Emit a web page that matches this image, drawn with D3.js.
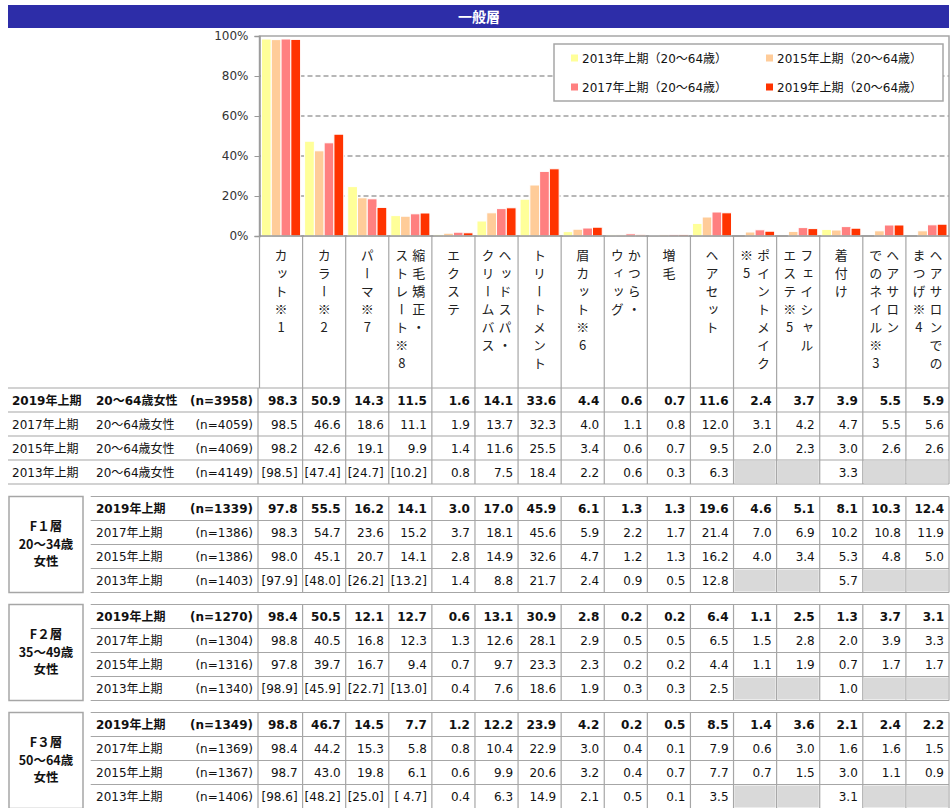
<!DOCTYPE html>
<html>
<head>
<meta charset="utf-8">
<script src="https://cdn.jsdelivr.net/npm/d3@7.9.0/dist/d3.min.js"></script>
<style>
  body { margin: 0; background: #fff; }
  svg { display: block; font-family: "DejaVu Sans", "Noto Sans CJK JP", sans-serif; }
</style>
</head>
<body>
<svg id="chart" width="951" height="808"></svg>
<script>
// categories (vertical labels: right column first)
const categories = ["カット", "カラー", "パーマ", "縮毛矯正・ストレート", "エクステ", "ヘッドスパ・クリームバス",
  "トリートメント", "眉カット", "かつら・ウィッグ", "増毛", "ヘアセット", "ポイントメイク",
  "フェイシャルエステ", "着付け", "ヘアサロンでのネイル", "ヘアサロンでのまつげ"];
const catLabels = [["カット※1"], ["カラー※2"], ["パーマ※7"], ["縮毛矯正・", "ストレート※8"], ["エクステ"],
  ["ヘッドスパ・", "クリームバス"], ["トリートメント"], ["眉カット※6"], ["かつら・", "ウィッグ"], ["増毛"],
  ["ヘアセット"], ["ポイントメイク", "※5"], ["フェイシャル", "エステ※5"], ["着付け"],
  ["ヘアサロン", "でのネイル※3"], ["ヘアサロンでの", "まつげ※4"]];

const rowYears = ["2019年上期", "2017年上期", "2015年上期", "2013年上期"];
const seriesKeys = ["2013", "2015", "2017", "2019"];
const seriesNames = ["2013年上期（20～64歳）", "2015年上期（20～64歳）", "2017年上期（20～64歳）", "2019年上期（20～64歳）"];
const seriesColors = ["#ffff99", "#ffcc99", "#ff8080", "#ff3300"];
const yTicks = [0, 20, 40, 60, 80, 100];

// 20～64歳女性 (rows: 2019, 2017, 2015, 2013)
const allN = [3958, 4059, 4069, 4149];
const all2019 = [98.3, 50.9, 14.3, 11.5, 1.6, 14.1, 33.6, 4.4, 0.6, 0.7, 11.6, 2.4, 3.7, 3.9, 5.5, 5.9];
const all2017 = [98.5, 46.6, 18.6, 11.1, 1.9, 13.7, 32.3, 4.0, 1.1, 0.8, 12.0, 3.1, 4.2, 4.7, 5.5, 5.6];
const all2015 = [98.2, 42.6, 19.1, 9.9, 1.4, 11.6, 25.5, 3.4, 0.6, 0.7, 9.5, 2.0, 2.3, 3.0, 2.6, 2.6];
const all2013 = [98.5, 47.4, 24.7, 10.2, 0.8, 7.5, 18.4, 2.2, 0.6, 0.3, 6.3, null, null, 3.3, null, null];

// F1層
const f1N = [1339, 1386, 1386, 1403];
const f1_2019 = [97.8, 55.5, 16.2, 14.1, 3.0, 17.0, 45.9, 6.1, 1.3, 1.3, 19.6, 4.6, 5.1, 8.1, 10.3, 12.4];
const f1_2017 = [98.3, 54.7, 23.6, 15.2, 3.7, 18.1, 45.6, 5.9, 2.2, 1.7, 21.4, 7.0, 6.9, 10.2, 10.8, 11.9];
const f1_2015 = [98.0, 45.1, 20.7, 14.1, 2.8, 14.9, 32.6, 4.7, 1.2, 1.3, 16.2, 4.0, 3.4, 5.3, 4.8, 5.0];
const f1_2013 = [97.9, 48.0, 26.2, 13.2, 1.4, 8.8, 21.7, 2.4, 0.9, 0.5, 12.8, null, null, 5.7, null, null];

// F2層
const f2N = [1270, 1304, 1316, 1340];
const f2_2019 = [98.4, 50.5, 12.1, 12.7, 0.6, 13.1, 30.9, 2.8, 0.2, 0.2, 6.4, 1.1, 2.5, 1.3, 3.7, 3.1];
const f2_2017 = [98.8, 40.5, 16.8, 12.3, 1.3, 12.6, 28.1, 2.9, 0.5, 0.5, 6.5, 1.5, 2.8, 2.0, 3.9, 3.3];
const f2_2015 = [97.8, 39.7, 16.7, 9.4, 0.7, 9.7, 23.3, 2.3, 0.2, 0.2, 4.4, 1.1, 1.9, 0.7, 1.7, 1.7];
const f2_2013 = [98.9, 45.9, 22.7, 13.0, 0.4, 7.6, 18.6, 1.9, 0.3, 0.3, 2.5, null, null, 1.0, null, null];

// F3層
const f3N = [1349, 1369, 1367, 1406];
const f3_2019 = [98.8, 46.7, 14.5, 7.7, 1.2, 12.2, 23.9, 4.2, 0.2, 0.5, 8.5, 1.4, 3.6, 2.1, 2.4, 2.2];
const f3_2017 = [98.4, 44.2, 15.3, 5.8, 0.8, 10.4, 22.9, 3.0, 0.4, 0.1, 7.9, 0.6, 3.0, 1.6, 1.6, 1.5];
const f3_2015 = [98.7, 43.0, 19.8, 6.1, 0.6, 9.9, 20.6, 3.2, 0.4, 0.7, 7.7, 0.7, 1.5, 3.0, 1.1, 0.9];
const f3_2013 = [98.6, 48.2, 25.0, 4.7, 0.4, 6.3, 14.9, 2.1, 0.5, 0.1, 3.5, null, null, 3.1, null, null];

const sections = [
  { label: null, n: allN, rows: [all2019, all2017, all2015, all2013] },
  { label: ["F１層", "20～34歳", "女性"], n: f1N, rows: [f1_2019, f1_2017, f1_2015, f1_2013] },
  { label: ["F２層", "35～49歳", "女性"], n: f2N, rows: [f2_2019, f2_2017, f2_2015, f2_2013] },
  { label: ["F３層", "50～64歳", "女性"], n: f3N, rows: [f3_2019, f3_2017, f3_2015, f3_2013] }
];
const bracketCols = 4; // 2013 values shown in [ ] for first columns

const svg = d3.select('#chart');
const lineColor = '#a6a6a6';
const plotLeft = 259.5, plotRight = 949, plotTop = 36, plotBase = 236, labelBottom = 388;

// header
svg.append('rect').attr('x', 8).attr('y', 5).attr('width', 941).attr('height', 23).attr('fill', '#2d2da8');
svg.append('text').attr('x', 479).attr('y', 21.5).attr('text-anchor', 'middle')
  .attr('fill', '#fff').attr('font-weight', 'bold').attr('font-size', 14)
  .style('font-family', '"Noto Sans CJK JP"').text('一般層');

const x = d3.scaleBand().domain(categories).range([plotLeft, plotRight]);
const xs = d3.scaleBand().domain(seriesKeys).range([2, x.bandwidth() - 2]);
const y = d3.scaleLinear().domain([0, 100]).range([plotBase, plotTop]);

// grid
svg.selectAll('.grid').data(yTicks.filter(t => t > 0 && t < 100)).join('line')
  .attr('x1', plotLeft).attr('x2', plotRight).attr('y1', d => y(d)).attr('y2', d => y(d))
  .attr('stroke', '#a0a0a0').attr('stroke-width', 1.5).attr('stroke-dasharray', '5,3');
svg.append('rect').attr('x', plotLeft).attr('y', plotTop).attr('width', plotRight - plotLeft).attr('height', plotBase - plotTop)
  .attr('fill', 'none').attr('stroke', lineColor).attr('stroke-width', 1.5);

// bars
const barSeries = [all2013, all2015, all2017, all2019];
barSeries.forEach((vals, si) => {
  svg.append('g').selectAll('rect').data(vals.map((v, i) => ({ v, c: categories[i] })).filter(d => d.v != null))
    .join('rect')
    .attr('x', d => x(d.c) + xs(seriesKeys[si]))
    .attr('y', d => y(d.v))
    .attr('width', xs.bandwidth())
    .attr('height', d => plotBase - y(d.v))
    .attr('fill', seriesColors[si])
    .attr('stroke', '#fff').attr('stroke-width', 1);
});

// y axis
const yAxis = svg.append('g').attr('transform', `translate(${plotLeft},0)`)
  .call(d3.axisLeft(y).tickValues(yTicks).tickSize(5).tickPadding(6).tickFormat(d => d + '%'));
yAxis.select('.domain').attr('stroke', '#999').attr('stroke-width', 1.5);
yAxis.selectAll('.tick line').attr('stroke', '#999');
yAxis.selectAll('.tick text').attr('font-size', 12).attr('fill', '#333')
  .style('font-family', '"DejaVu Sans"');

// legend
const lg = svg.append('g');
lg.append('rect').attr('x', 554).attr('y', 44).attr('width', 389).attr('height', 57)
  .attr('fill', '#fff').attr('stroke', lineColor).attr('stroke-width', 1.5);
seriesNames.forEach((name, i) => {
  const lx = 571 + (i % 2) * 195, ly = 58 + Math.floor(i / 2) * 29;
  lg.append('rect').attr('x', lx).attr('y', ly - 3.5).attr('width', 7).attr('height', 7).attr('fill', seriesColors[i]);
  lg.append('text').attr('x', lx + 11).attr('y', ly + 4.5).attr('font-size', 12).attr('fill', '#111').text(name);
});

// category label area
const bounds = categories.map(c => x(c)).concat([plotRight]);
svg.selectAll('.vline').data(bounds).join('line')
  .attr('x1', d => d).attr('x2', d => d).attr('y1', plotBase).attr('y2', labelBottom)
  .attr('stroke', lineColor).attr('stroke-width', 1.2);
svg.append('line').attr('x1', plotLeft).attr('x2', plotRight).attr('y1', plotBase).attr('y2', plotBase)
  .attr('stroke', '#999').attr('stroke-width', 1.5);

catLabels.forEach((cols, i) => {
  const cx = x(categories[i]) + x.bandwidth() / 2;
  cols.forEach((str, j) => {
    const off = cols.length === 1 ? 0 : (j === 0 ? 8.5 : -8.5);
    svg.append('text')
      .attr('x', cx + off).attr('y', 249)
      .style('writing-mode', 'vertical-rl')
      .style('text-orientation', 'upright')
      .style('letter-spacing', '5px')
      .style('font-family', '"Noto Sans CJK JP"')
      .attr('font-size', 13).attr('fill', '#222')
      .text(str);
  });
});

// table
const rowH = 24;
const sectionTops = [388, 496.5, 604.5, 712.5];
const nRight = 253;

function fmt(v, ri, ci) {
  if (v == null) return '';
  const s = v.toFixed(1);
  if (ri === 3 && ci < bracketCols) return '[' + s.padStart(4, ' ') + ']';
  return s;
}

sections.forEach((sec, si) => {
  const t0 = sectionTops[si];
  const g = svg.append('g');
  const tableLeft = sec.label ? 90.7 : 8;
  // gray cells for missing values
  sec.rows.forEach((vals, ri) => {
    vals.forEach((v, ci) => {
      if (v == null) {
        g.append('rect').attr('x', x(categories[ci]) + 1).attr('y', t0 + ri * rowH + 1)
          .attr('width', x.bandwidth() - 2).attr('height', rowH - 2).attr('fill', '#d9d9d9');
      }
    });
  });
  // horizontal lines
  d3.range(5).forEach(k => {
    g.append('line').attr('x1', tableLeft).attr('x2', plotRight)
      .attr('y1', t0 + k * rowH).attr('y2', t0 + k * rowH)
      .attr('stroke', lineColor).attr('stroke-width', 1.2);
  });
  // vertical lines
  [258].concat(bounds.slice(1)).forEach(bx => {
    g.append('line').attr('x1', bx).attr('x2', bx).attr('y1', t0).attr('y2', t0 + 4 * rowH)
      .attr('stroke', lineColor).attr('stroke-width', 1.2);
  });
  // left box
  if (sec.label) {
    g.append('rect').attr('x', 9).attr('y', t0).attr('width', 74).attr('height', 4 * rowH)
      .attr('fill', 'none').attr('stroke', lineColor).attr('stroke-width', 1.5);
    sec.label.forEach((s, k) => {
      g.append('text').attr('x', 46).attr('y', t0 + 34.5 + k * 17.5).attr('text-anchor', 'middle')
        .attr('font-size', 12.5).attr('font-weight', 'bold').attr('fill', '#111')
        .style('font-family', '"Noto Sans CJK JP"').text(s);
    });
  }
  // row texts
  sec.rows.forEach((vals, ri) => {
    const ty = t0 + ri * rowH + 16.5;
    const bold = ri === 0 ? 'bold' : 'normal';
    g.append('text').attr('x', sec.label ? 96 : 12).attr('y', ty).attr('font-size', 12)
      .attr('font-weight', bold).attr('fill', '#111').text(rowYears[ri]);
    if (!sec.label) {
      g.append('text').attr('x', 96).attr('y', ty).attr('font-size', 12)
        .attr('font-weight', bold).attr('fill', '#111').text('20～64歳女性');
    }
    g.append('text').attr('x', nRight).attr('y', ty).attr('text-anchor', 'end').attr('font-size', 12)
      .attr('font-weight', bold).attr('fill', '#111').text(`(n=${sec.n[ri]})`);
    vals.forEach((v, ci) => {
      g.append('text').attr('x', x(categories[ci]) + x.bandwidth() - 5).attr('y', ty)
        .attr('text-anchor', 'end').attr('font-size', 12).attr('font-weight', bold)
        .attr('fill', '#111').style('white-space', 'pre').text(fmt(v, ri, ci));
    });
  });
});
</script>
</body>
</html>
